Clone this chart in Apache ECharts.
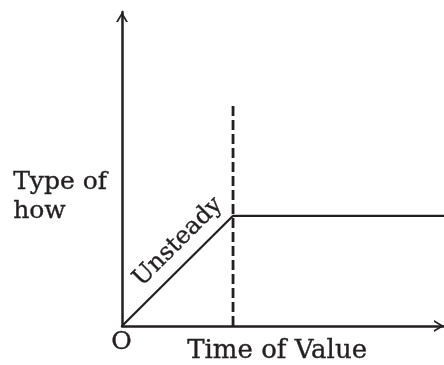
<!DOCTYPE html>
<html>
<head>
<meta charset="utf-8">
<script src="https://cdn.jsdelivr.net/npm/echarts@6/dist/echarts.min.js"></script>
<style>
html,body{margin:0;padding:0;background:#fff;}
#chart{width:444px;height:365px;}
</style>
</head>
<body>
<div id="chart"></div>
<script>
// Data
const flowX = [0, 1, 2.9];
const flowY = [0, 1, 1];
const dividerX = [1, 1];
const dividerY = [0, 2];
const xMax = 2.9;
const yMax = 2.85;
const yAxisTitle = 'Type of\nhow';
const xAxisTitle = 'Time of Value';
const originLabel = 'O';
const segmentLabel = 'Unsteady';

const chart = echarts.init(document.getElementById('chart'));
const ink = '#231f20';
const chevron = 'path://M0,10 L6,0 L12,10 L10,10 L6,3.3 L2,10 Z';
const textStyle = (t, size, extra) => Object.assign({text: t, font: size + 'px "DejaVu Serif"', fill: ink, stroke: ink, lineWidth: 0.35}, extra || {});

const axisCommon = {
  type: 'value',
  min: 0,
  axisLabel: {show: false},
  axisTick: {show: false},
  splitLine: {show: false},
  axisLine: {
    show: true,
    onZero: false,
    symbol: ['none', chevron],
    symbolSize: [12, 10],
    symbolOffset: [0, -5],
    lineStyle: {color: ink, width: 2.5}
  }
};

chart.setOption({
  animation: false,
  backgroundColor: '#fff',
  grid: {left: 122, right: -6, top: 12, bottom: 39},
  xAxis: Object.assign({}, axisCommon, {max: xMax}),
  yAxis: Object.assign({}, axisCommon, {max: yMax}),
  series: [
    {
      type: 'line',
      data: flowX.map((x, i) => [x, flowY[i]]),
      symbol: 'none',
      lineStyle: {color: ink, width: 2.2},
      z: 3
    },
    {
      type: 'line',
      data: dividerX.map((x, i) => [x, dividerY[i]]),
      symbol: 'none',
      lineStyle: {color: ink, width: 2.8, type: [10, 4]},
      z: 2
    }
  ],
  graphic: [
    {type: 'text', left: 13, top: 168, style: textStyle(yAxisTitle, 25, {lineHeight: 29})},
    {type: 'text', left: 111, top: 330, style: textStyle(originLabel, 25)},
    {type: 'text', left: 187, top: 338, style: textStyle(xAxisTitle, 26)},
    {type: 'text', x: 178, y: 242, rotation: Math.PI / 4,
      style: textStyle(segmentLabel, 24, {align: 'center', verticalAlign: 'middle'})}
  ]
});
</script>
</body>
</html>
